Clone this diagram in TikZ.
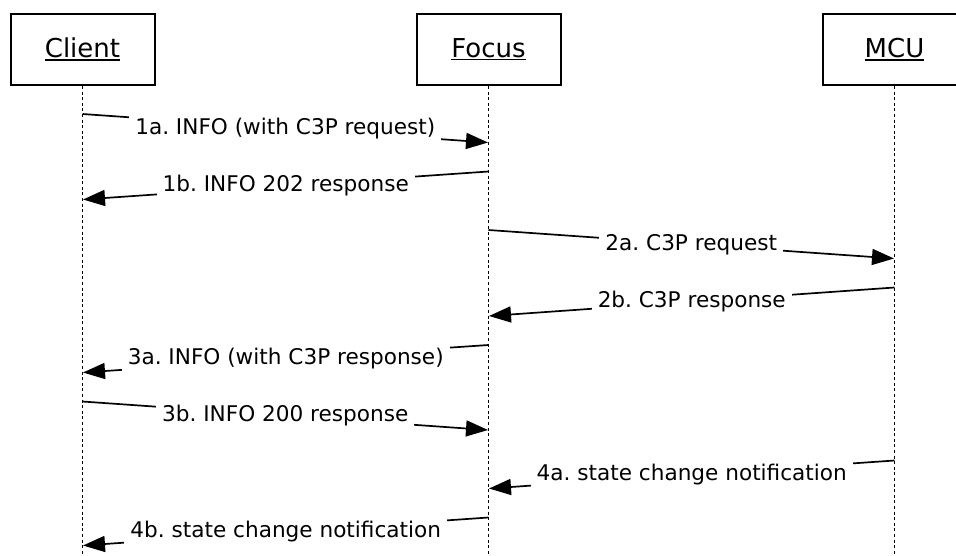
\documentclass[tikz,border=0pt]{standalone}
\usepackage{fontspec}
\setmainfont{DejaVu Sans}
\usetikzlibrary{arrows.meta}
\newcommand{\myul}[1]{\setbox0\hbox{#1}\rlap{\copy0}\rule[-3pt]{\wd0}{1.6pt}}
\frenchspacing
\begin{document}
\begin{tikzpicture}[x=1pt,y=-1pt,
  actor/.style={draw, line width=2pt, minimum width=144pt, minimum height=71pt,
    font=\fontsize{26}{30}\selectfont, inner sep=0pt},
  life/.style={line width=1.5pt, dash pattern=on 3pt off 2.6pt},
  msg/.style={line width=1.7pt, -{Triangle[length=22pt,width=16pt]}},
  lbl/.style={fill=white, inner xsep=6pt, inner ysep=2pt,
    font=\fontsize{21.6}{26}\selectfont, midway}]
\clip (0,0) rectangle (956,555);
\useasboundingbox (0,0) rectangle (956,555);

\node[actor] (client) at (82.5,49.5) {\myul{Client}};
\node[actor] (focus) at (488.5,49.5) {\myul{Focus}};
\node[actor] (mcu) at (894.5,49.5) {\myul{MCU}};

\coordinate (cbot) at (82.5,556);
\coordinate (fbot) at (488.5,556);
\coordinate (mbot) at (894.5,556);
\draw[life] (client.south) -- (cbot);
\draw[life] (focus.south) -- (fbot);
\draw[life] (mcu.south) -- (mbot);

% message endpoints
\coordinate (c1a) at (82.5,114);   \coordinate (f1a) at (488,142.5);
\coordinate (f1b) at (488.5,171.5);\coordinate (c1b) at (83,199.5);
\coordinate (f2a) at (488.5,230);  \coordinate (m2a) at (894,258.5);
\coordinate (m2b) at (894.5,287.5);\coordinate (f2b) at (489,316);
\coordinate (f3a) at (488.5,345);  \coordinate (c3a) at (83,372.5);
\coordinate (c3b) at (82.5,401.5); \coordinate (f3b) at (488,430);
\coordinate (m4a) at (894.5,460.5);\coordinate (f4a) at (489,488.5);
\coordinate (f4b) at (488.5,517.5);\coordinate (c4b) at (83,545.5);

\draw[msg] (c1a) -- node[lbl] {1a. INFO (with C3P request)} (f1a);
\draw[msg] (f1b) -- node[lbl] {1b. INFO 202 response} (c1b);
\draw[msg] (f2a) -- node[lbl] {2a. C3P request} (m2a);
\draw[msg] (m2b) -- node[lbl] {2b. C3P response} (f2b);
\draw[msg] (f3a) -- node[lbl] {3a. INFO (with C3P response)} (c3a);
\draw[msg] (c3b) -- node[lbl] {3b. INFO 200 response} (f3b);
\draw[msg] (m4a) -- node[lbl] {4a. state change notification} (f4a);
\draw[msg] (f4b) -- node[lbl] {4b. state change notification} (c4b);
\end{tikzpicture}
\end{document}
